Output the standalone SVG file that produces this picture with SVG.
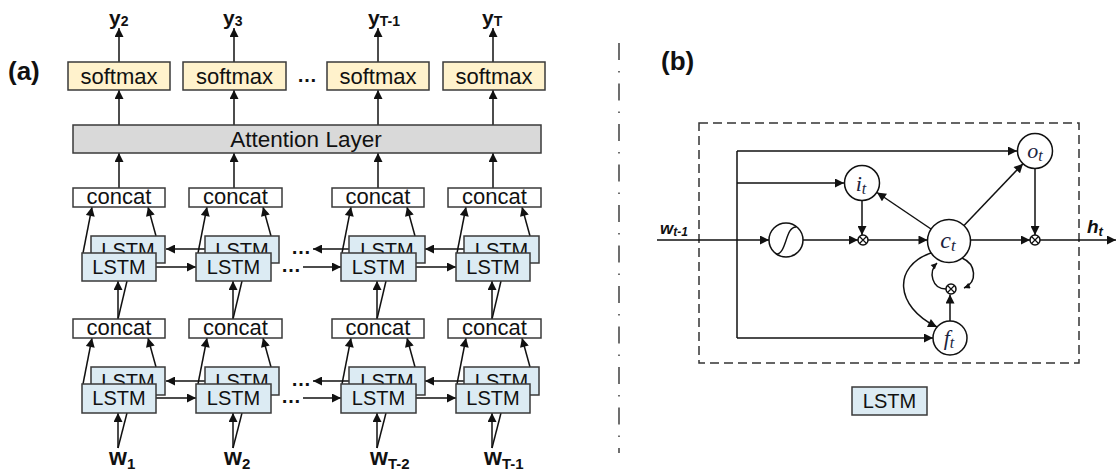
<svg xmlns="http://www.w3.org/2000/svg" width="1117" height="474" viewBox="0 0 1117 474">
<defs>
<marker id="ah" viewBox="0 0 10 10" refX="10" refY="5" markerWidth="10" markerHeight="9" markerUnits="userSpaceOnUse" orient="auto"><path d="M0,0 L10,5 L0,10 z" fill="#111"/></marker>
<marker id="ahs" viewBox="0 0 10 10" refX="10" refY="5" markerWidth="7" markerHeight="6" markerUnits="userSpaceOnUse" orient="auto"><path d="M0,0 L10,5 L0,10 z" fill="#111"/></marker>
<style>
.c{fill:none;stroke:#111;stroke-width:1.5}
.a{marker-end:url(#ah)}
.s{marker-end:url(#ahs)}
.sm{fill:#FFF2CC;stroke:#3a3a3a;stroke-width:1.5}
.cc{fill:#fff;stroke:#3a3a3a;stroke-width:1.5}
.ls{fill:#DCEBF3;stroke:#3a3a3a;stroke-width:1.5}
.t{font-family:"Liberation Sans",Arial,sans-serif;fill:#111;text-anchor:middle}
.b{font-family:"Liberation Sans",Arial,sans-serif;font-weight:bold;fill:#111}
.m{font-family:"Liberation Serif","Times New Roman",serif;font-style:italic;fill:#1a2340;text-anchor:middle}
.ci{fill:#fff;stroke:#111;stroke-width:1.5}
</style>
</defs>
<rect width="1117" height="474" fill="#fff"/>

<text class="b" x="8" y="80" font-size="26">(a)</text>
<text class="b" x="661" y="70" font-size="26">(b)</text>
<line x1="619" y1="43" x2="619" y2="453" stroke="#222" stroke-width="1.3" stroke-dasharray="17 11 1.5 11"/>

<g id="outputs">
<text class="b" x="109" y="25" font-size="21">y<tspan font-size="14" dy="1">2</tspan></text>
<text class="b" x="223" y="25" font-size="21">y<tspan font-size="14" dy="1">3</tspan></text>
<text class="b" x="368" y="25" font-size="21">y<tspan font-size="14" dy="1">T-1</tspan></text>
<text class="b" x="482" y="25" font-size="21">y<tspan font-size="14" dy="1">T</tspan></text>
</g>
<g id="inputs">
<text class="b" x="109" y="465" font-size="23">w<tspan font-size="15" dy="4">1</tspan></text>
<text class="b" x="224" y="465" font-size="23">w<tspan font-size="15" dy="4">2</tspan></text>
<text class="b" x="370" y="465" font-size="23">w<tspan font-size="15" dy="4">T-2</tspan></text>
<text class="b" x="484" y="465" font-size="23">w<tspan font-size="15" dy="4">T-1</tspan></text>
</g>

<g id="connectors-a">
<path class="c a" d="M119 62V28"/><path class="c a" d="M234 62V28"/><path class="c a" d="M378 62V28"/><path class="c a" d="M493 62V28"/>
<path class="c a" d="M119 125V90"/><path class="c a" d="M234 125V90"/><path class="c a" d="M378 125V90"/><path class="c a" d="M493 125V90"/>
<path class="c a" d="M119 188V153"/><path class="c a" d="M234 188V153"/><path class="c a" d="M378 188V153"/><path class="c a" d="M493 188V153"/>
<path class="c a" d="M83 253L92 207"/><path class="c a" d="M156 236L148 207"/>
<path class="c a" d="M198 253L207 207"/><path class="c a" d="M271 236L263 207"/>
<path class="c a" d="M342 253L351 207"/><path class="c a" d="M415 236L407 207"/>
<path class="c a" d="M457 253L466 207"/><path class="c a" d="M530 236L522 207"/>
<path class="c a" d="M83 384L92 338"/><path class="c a" d="M156 367L148 338"/>
<path class="c a" d="M198 384L207 338"/><path class="c a" d="M271 367L263 338"/>
<path class="c a" d="M342 384L351 338"/><path class="c a" d="M415 367L407 338"/>
<path class="c a" d="M457 384L466 338"/><path class="c a" d="M530 367L522 338"/>
<path class="c a" d="M118 319V281"/><path class="c" d="M118 319L127 281"/>
<path class="c a" d="M233 319V281"/><path class="c" d="M233 319L242 281"/>
<path class="c a" d="M377 319V281"/><path class="c" d="M377 319L386 281"/>
<path class="c a" d="M492 319V281"/><path class="c" d="M492 319L501 281"/>
<path class="c a" d="M118 448V413"/><path class="c" d="M118 448L127 413"/>
<path class="c a" d="M233 448V413"/><path class="c" d="M233 448L242 413"/>
<path class="c a" d="M377 448V413"/><path class="c" d="M377 448L386 413"/>
<path class="c a" d="M492 448V413"/><path class="c" d="M492 448L501 413"/>
<path class="c a" d="M156 267H196"/><path class="c a" d="M303 267H341"/><path class="c a" d="M415 267H456"/>
<path class="c a" d="M206 249H166"/><path class="c a" d="M350 249H313"/><path class="c a" d="M465 249H425"/>
<path class="c a" d="M156 398H196"/><path class="c a" d="M303 398H341"/><path class="c a" d="M415 398H456"/>
<path class="c a" d="M206 381H166"/><path class="c a" d="M350 381H313"/><path class="c a" d="M465 381H425"/>
</g>
<g id="dots" class="b" font-size="20">
<text x="297" y="82">…</text>
<text x="281" y="272">…</text><text x="291" y="254">…</text>
<text x="281" y="403">…</text><text x="291" y="386">…</text>
</g>

<g id="softmax">
<rect class="sm" x="68" y="62" width="102" height="28"/><text class="t" x="119" y="84" font-size="22">softmax</text>
<rect class="sm" x="183" y="62" width="103" height="28"/><text class="t" x="234.5" y="84" font-size="22">softmax</text>
<rect class="sm" x="327" y="62" width="102" height="28"/><text class="t" x="378" y="84" font-size="22">softmax</text>
<rect class="sm" x="443" y="62" width="102" height="28"/><text class="t" x="494" y="84" font-size="22">softmax</text>
</g>
<g id="attention">
<rect x="73" y="125" width="468" height="28" fill="#D9D9D9" stroke="#3a3a3a" stroke-width="1.5"/>
<text class="t" x="306" y="147" font-size="22.5">Attention Layer</text>
</g>
<g id="concat-upper">
<rect class="cc" x="73" y="188" width="92" height="19"/><text class="t" x="119" y="204" font-size="22">concat</text>
<rect class="cc" x="189" y="188" width="93" height="19"/><text class="t" x="235.5" y="204" font-size="22">concat</text>
<rect class="cc" x="332" y="188" width="92" height="19"/><text class="t" x="378" y="204" font-size="22">concat</text>
<rect class="cc" x="448" y="188" width="93" height="19"/><text class="t" x="494.5" y="204" font-size="22">concat</text>
</g>
<g id="concat-lower">
<rect class="cc" x="73" y="319" width="92" height="19"/><text class="t" x="119" y="335" font-size="22">concat</text>
<rect class="cc" x="189" y="319" width="93" height="19"/><text class="t" x="235.5" y="335" font-size="22">concat</text>
<rect class="cc" x="332" y="319" width="92" height="19"/><text class="t" x="378" y="335" font-size="22">concat</text>
<rect class="cc" x="448" y="319" width="93" height="19"/><text class="t" x="494.5" y="335" font-size="22">concat</text>
</g>
<g id="lstm-upper">
<rect class="ls" x="91" y="236" width="74" height="27"/><text class="t" x="128" y="257" font-size="20">LSTM</text>
<rect class="ls" x="82" y="253" width="74" height="28"/><text class="t" x="119" y="274" font-size="20">LSTM</text>
<rect class="ls" x="205" y="236" width="74" height="27"/><text class="t" x="242" y="257" font-size="20">LSTM</text>
<rect class="ls" x="196" y="253" width="75" height="28"/><text class="t" x="233.5" y="274" font-size="20">LSTM</text>
<rect class="ls" x="349" y="236" width="76" height="27"/><text class="t" x="387" y="257" font-size="20">LSTM</text>
<rect class="ls" x="341" y="253" width="75" height="28"/><text class="t" x="378.5" y="274" font-size="20">LSTM</text>
<rect class="ls" x="464" y="236" width="75" height="27"/><text class="t" x="501.5" y="257" font-size="20">LSTM</text>
<rect class="ls" x="456" y="253" width="74" height="28"/><text class="t" x="493" y="274" font-size="20">LSTM</text>
</g>
<g id="lstm-lower">
<rect class="ls" x="91" y="367" width="74" height="28"/><text class="t" x="128" y="388" font-size="20">LSTM</text>
<rect class="ls" x="82" y="384" width="74" height="29"/><text class="t" x="119" y="405" font-size="20">LSTM</text>
<rect class="ls" x="205" y="367" width="74" height="28"/><text class="t" x="242" y="388" font-size="20">LSTM</text>
<rect class="ls" x="196" y="384" width="75" height="29"/><text class="t" x="233.5" y="405" font-size="20">LSTM</text>
<rect class="ls" x="349" y="367" width="76" height="28"/><text class="t" x="387" y="388" font-size="20">LSTM</text>
<rect class="ls" x="341" y="384" width="75" height="29"/><text class="t" x="378.5" y="405" font-size="20">LSTM</text>
<rect class="ls" x="464" y="367" width="75" height="28"/><text class="t" x="501.5" y="388" font-size="20">LSTM</text>
<rect class="ls" x="456" y="384" width="74" height="29"/><text class="t" x="493" y="405" font-size="20">LSTM</text>
</g>

<rect id="cell-box" x="699" y="123" width="380" height="240" fill="none" stroke="#333" stroke-width="1.5" stroke-dasharray="9 5"/>
<g id="connectors-b">
<path class="c a" d="M657 240H769"/>
<path class="c" d="M737 151V338"/>
<path class="c a" d="M737 151H1017"/>
<path class="c a" d="M737 183H844"/>
<path class="c a" d="M737 338H933"/>
<path class="c a" d="M803 240H858"/>
<path class="c a" d="M862 200.5V235"/>
<path class="c a" d="M868 240H927.5"/>
<path class="c a" d="M931 229L877 192.5"/>
<path class="c a" d="M964 225.5L1023 163.7"/>
<path class="c a" d="M1035 168.5V235"/>
<path class="c a" d="M970.5 240H1030"/>
<path class="c a" d="M1040 240H1116"/>
<path class="c a" d="M950 321V294.5"/>
<path class="c s" d="M946 289C932 289 928 272 937 263"/>
<path class="c s" d="M962 258C976 264 978 282 964 288"/>
<path class="c a" d="M931 253C893 266 894 306 937 327"/>
</g>
<g id="sigmoid"><circle class="ci" cx="786" cy="240" r="17"/><path d="M776 254C787 254 785 227 796 227" fill="none" stroke="#111" stroke-width="1.4"/></g>
<g id="it"><circle class="ci" cx="862" cy="183" r="17.5"/><text class="m" x="861" y="191" font-size="22">i<tspan font-size="16" dy="3">t</tspan></text></g>
<g id="ot"><circle class="ci" cx="1035" cy="151" r="17.5"/><text class="m" x="1035" y="158" font-size="22">o<tspan font-size="16" dy="3">t</tspan></text></g>
<g id="ct"><circle class="ci" cx="949" cy="241" r="21.5"/><text class="m" x="948" y="248" font-size="24">c<tspan font-size="17" dy="3">t</tspan></text></g>
<g id="ft"><circle class="ci" cx="950" cy="338" r="17"/><text class="m" x="949" y="345" font-size="22">f<tspan font-size="16" dy="3">t</tspan></text></g>
<g id="mul1"><circle class="ci" cx="863" cy="240" r="5"/><path d="M859.5 236.5L866.5 243.5M866.5 236.5L859.5 243.5" stroke="#111" stroke-width="1.2"/></g>
<g id="mul2"><circle class="ci" cx="1035" cy="240" r="5"/><path d="M1031.5 236.5L1038.5 243.5M1038.5 236.5L1031.5 243.5" stroke="#111" stroke-width="1.2"/></g>
<g id="mul3"><circle class="ci" cx="951" cy="289" r="5"/><path d="M947.5 285.5L954.5 292.5M954.5 285.5L947.5 292.5" stroke="#111" stroke-width="1.2"/></g>
<text class="b" x="660" y="234" font-size="17" font-style="italic" fill="#1a2340">w<tspan font-size="12" dy="2">t-1</tspan></text>
<text class="b" x="1087" y="233" font-size="19" font-style="italic" fill="#1a2340">h<tspan font-size="13" dy="3">t</tspan></text>
<g id="legend"><rect class="ls" x="852" y="387" width="75" height="28"/><text class="t" x="889.5" y="408" font-size="20">LSTM</text></g>
</svg>
